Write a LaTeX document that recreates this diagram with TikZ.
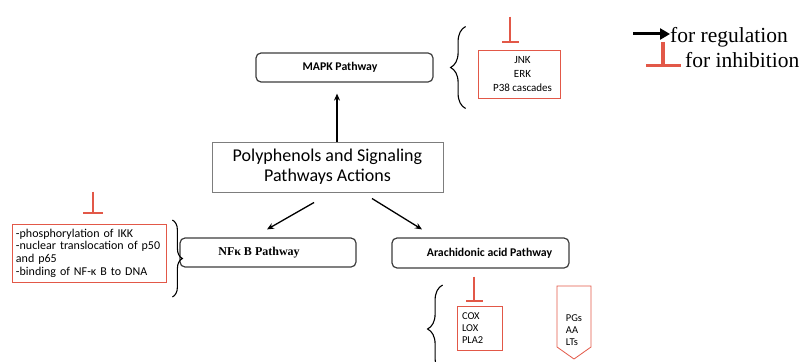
\documentclass[tikz,border=0pt]{standalone}
\usepackage{fontspec}
\setmainfont{Carlito}
\newfontfamily\tnr{Liberation Serif}
\usetikzlibrary{arrows.meta,decorations.pathreplacing}
\definecolor{inred}{RGB}{226,88,72}
\definecolor{boxgray}{RGB}{60,60,60}
\definecolor{ctrgray}{RGB}{125,125,125}
\begin{document}
\begin{tikzpicture}[x=1pt,y=-1pt,
  pathbox/.style={draw=boxgray, line width=1.2pt, rounded corners=5pt, inner sep=0pt, font=\fontsize{11.8}{13}\selectfont\bfseries},
  redbox/.style={draw=inred, line width=0.8pt, inner sep=0pt},
  inhib/.style={draw=inred, line width=2pt, -{Bar[width=#1]}},
  arr/.style={line width=1.3pt, -{Stealth[length=7pt,width=6pt]}},
  brc/.style={decorate, decoration={brace, amplitude=#1}, line width=1.1pt}]
\useasboundingbox (0,0) rectangle (802,361);
\clip (0,0) rectangle (802,361);
% central node
\node[draw=ctrgray, line width=1pt, minimum width=231pt, minimum height=50pt, inner sep=0pt, align=center, font=\fontsize{18}{20}\selectfont] (ctr) at (327.5,167) {Polyphenols and Signaling\\Pathways Actions};
% pathways
\node[pathbox, minimum width=177pt, minimum height=29pt] (mapk) at (344.5,67.5) {MAPK Pathway\hspace*{9pt}};
\node[pathbox, minimum width=176pt, minimum height=29pt, font=\tnr\fontsize{12}{13}\selectfont\bfseries] (nfkb) at (268,252.5) {NFκ B Pathway\hspace*{18pt}};
\node[pathbox, minimum width=177pt, minimum height=30pt] (arach) at (480.5,253) {\hspace*{18pt}Arachidonic acid Pathway};
% arrows
\draw[arr] ([xshift=9.5pt]ctr.north) -- ([xshift=-7.5pt,yshift=-11pt]mapk.south);
\draw[arr] ([xshift=-13.5pt,yshift=-10pt]ctr.south) -- ([xshift=-1pt,yshift=8pt]nfkb.north);
\draw[arr] ([xshift=44.5pt,yshift=-6pt]ctr.south) -- ([xshift=-58.5pt,yshift=8pt]arach.north);
% red boxes
\node[redbox, minimum width=82pt, minimum height=48pt, align=center, font=\fontsize{11}{14}\selectfont] (jnk) at (519,74) {\hspace*{7pt}JNK\\\hspace*{7pt}ERK\\\hspace*{7pt}P38 cascades};
\node[redbox, minimum width=154pt, minimum height=58pt, text width=146pt, align=left, font=\fontsize{12}{12.7}\selectfont] (nfred) at (89,253) {-phosphorylation of IKK\\-nuclear translocation of p50\\and p65\\-binding of NF-κ B to DNA};
\node[redbox, minimum width=45pt, minimum height=44pt, text width=35pt, align=left, font=\fontsize{10.5}{11.7}\selectfont] (cox) at (479.5,328) {COX\\LOX\\PLA2};
\node[inner sep=0pt, align=left, font=\fontsize{10.5}{12}\selectfont] (pg) at (574,330) {PGs\\AA\\LTs};
\draw[inred, line width=0.8pt] ([xshift=-17pt,yshift=44pt]pg.center) -- ([xshift=17pt,yshift=44pt]pg.center) -- ([xshift=17pt,yshift=-17pt]pg.center) -- ([yshift=-29pt]pg.center) -- ([xshift=-17pt,yshift=-17pt]pg.center) -- cycle;
% braces
\draw[brc=15pt] ([xshift=32pt,yshift=-41pt]mapk.east) -- ([xshift=32pt,yshift=41pt]mapk.east);
\draw[brc=10pt] ([xshift=6pt,yshift=33pt]nfred.east) -- ([xshift=6pt,yshift=-44pt]nfred.east);
\draw[brc=15pt] ([xshift=-14pt,yshift=-45pt]cox.west) -- ([xshift=-14pt,yshift=43pt]cox.west);
% inhibitions
\draw[inhib=17pt] ([xshift=-9pt,yshift=33pt]jnk.north) -- ([xshift=-9pt,yshift=7pt]jnk.north);
\draw[inhib=20pt] ([xshift=4pt,yshift=32pt]nfred.north) -- ([xshift=4pt,yshift=10pt]nfred.north);
\draw[inhib=17pt] ([xshift=-5.5pt,yshift=29pt]cox.north) -- ([xshift=-5.5pt,yshift=4pt]cox.north);
% legend
\node[anchor=base west, inner sep=0pt, font=\tnr\fontsize{21.5}{24}\selectfont] (lreg) at (670,42) {for regulation};
\node[anchor=base west, inner sep=0pt, font=\tnr\fontsize{21.5}{24}\selectfont] (linh) at (685,67) {for inhibition};
\coordinate (la) at (633,34);
\coordinate (li) at (663,42);
\draw[line width=3pt, -{Triangle[length=10pt,width=11pt]}] (la) -- (lreg.west |- la);
\draw[inred, line width=3.5pt, -{Bar[width=35pt]}] (li) -- (li |- linh.base);
\end{tikzpicture}
\end{document}
